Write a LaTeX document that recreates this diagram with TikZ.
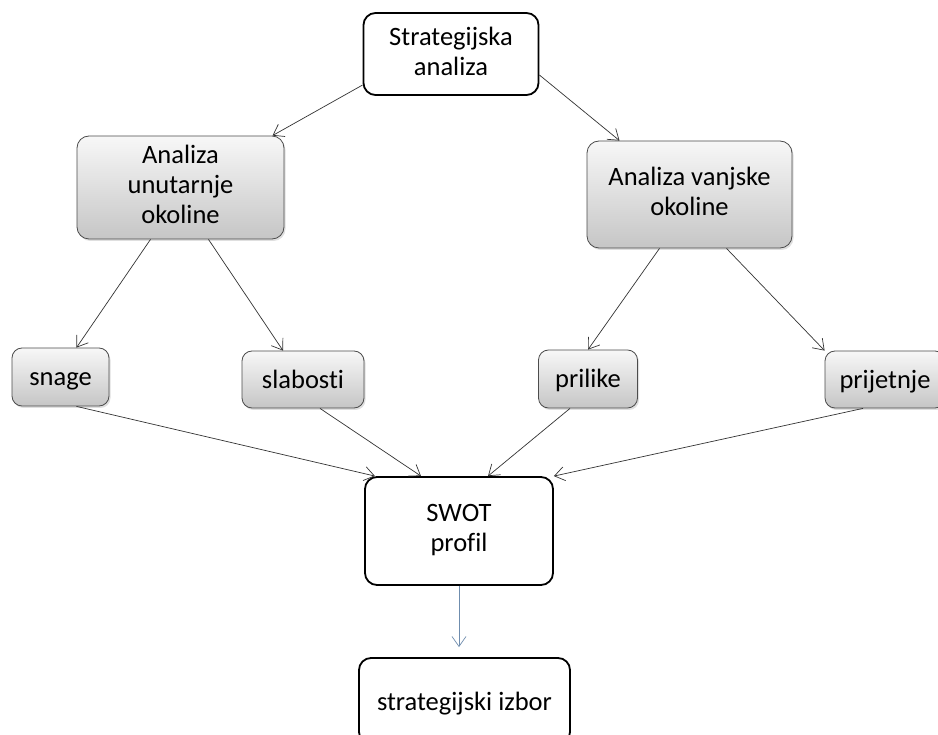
\documentclass[tikz,border=0pt]{standalone}
\usepackage{fontspec}
\setmainfont[Ligatures={NoCommon,NoRequired,NoContextual}]{Carlito}
\usepackage{xcolor}
\usepackage{tikz}
\usetikzlibrary{arrows.meta,shadows}

\definecolor{swotline}{HTML}{6F8DAE}
\newcommand{\boxstrut}{\rule[-0.2\baselineskip]{0pt}{\baselineskip}}

\tikzset{
  boxtext/.style={align=center, inner sep=0pt, font=\fontsize{26.5}{30}\selectfont,
    execute at begin node=\boxstrut, execute at end node=\boxstrut},
  mainbox/.style={boxtext, draw=black, line width=1.8pt, rounded corners=12pt, fill=white},
  graybox/.style={boxtext, draw=black!70, line width=0.8pt, rounded corners=12pt,
    top color=gray!6, bottom color=gray!45,
    drop shadow={opacity=0.25, shadow xshift=1.5pt, shadow yshift=-2pt}},
  conn/.style={draw=black!80, line width=0.7pt, -{Straight Barb[length=10pt,width=14pt]}}
}

\begin{document}
\begin{tikzpicture}[x=1pt, y=-1pt]
\clip (0,0) rectangle (938,735);
\fill[white] (0,0) rectangle (938,735);

% Top level
\node[mainbox, minimum width=175pt, minimum height=82pt] (strat) at (451,54) {Strategijska\\analiza};

% Internal and external analysis
\node[graybox, minimum width=207pt, minimum height=103pt] (unut) at (180.5,187.5) {Analiza\\unutarnje\\okoline};
\node[graybox, minimum width=205pt, minimum height=107pt] (vanj) at (689.5,194.5) {Analiza vanjske\\okoline};

% SWOT elements
\node[graybox, rounded corners=10pt, minimum width=97pt, minimum height=58pt] (snage) at (60.5,377) {snage};
\node[graybox, rounded corners=10pt, minimum width=122pt, minimum height=57pt] (slab) at (303,379.5) {slabosti};
\node[graybox, rounded corners=10pt, minimum width=99pt, minimum height=58pt] (pril) at (588,379) {prilike};
\node[graybox, rounded corners=10pt, minimum width=120pt, minimum height=57pt] (prij) at (885,379.5) {prijetnje};

% SWOT profile and choice
\node[mainbox, minimum width=188pt, minimum height=108pt] (swot) at (459,531) {SWOT\\profil};
\node[mainbox, minimum width=211pt, minimum height=86pt] (izbor) at (464.5,701) {strategijski izbor};

% Arrows from the top
\draw[conn] ([yshift=-31pt]strat.west) -- ([xshift=92pt]unut.north);
\draw[conn] ([yshift=-21pt]strat.east) -- ([xshift=-70pt]vanj.north);

% Arrows to the SWOT elements
\draw[conn] ([xshift=-30pt]unut.south) -- ([xshift=16pt]snage.north);
\draw[conn] ([xshift=28pt]unut.south) -- ([xshift=-20pt]slab.north);
\draw[conn] ([xshift=-30pt]vanj.south) -- (pril.north);
\draw[conn] ([xshift=37pt]vanj.south) -- (prij.north west);

% Arrows to the SWOT profile
\draw[conn] ([xshift=16pt]snage.south) -- ([xshift=-84pt]swot.north);
\draw[conn] ([xshift=17pt]slab.south) -- ([xshift=-38pt]swot.north);
\draw[conn] ([xshift=-18pt]pril.south) -- ([xshift=29pt]swot.north);
\draw[conn] ([xshift=-22pt]prij.south) -- (swot.north east);

% Arrow to the choice
\draw[conn, draw=swotline, shorten >=10pt] (swot.south) -- (swot.south |- izbor.north);
\end{tikzpicture}
\end{document}
